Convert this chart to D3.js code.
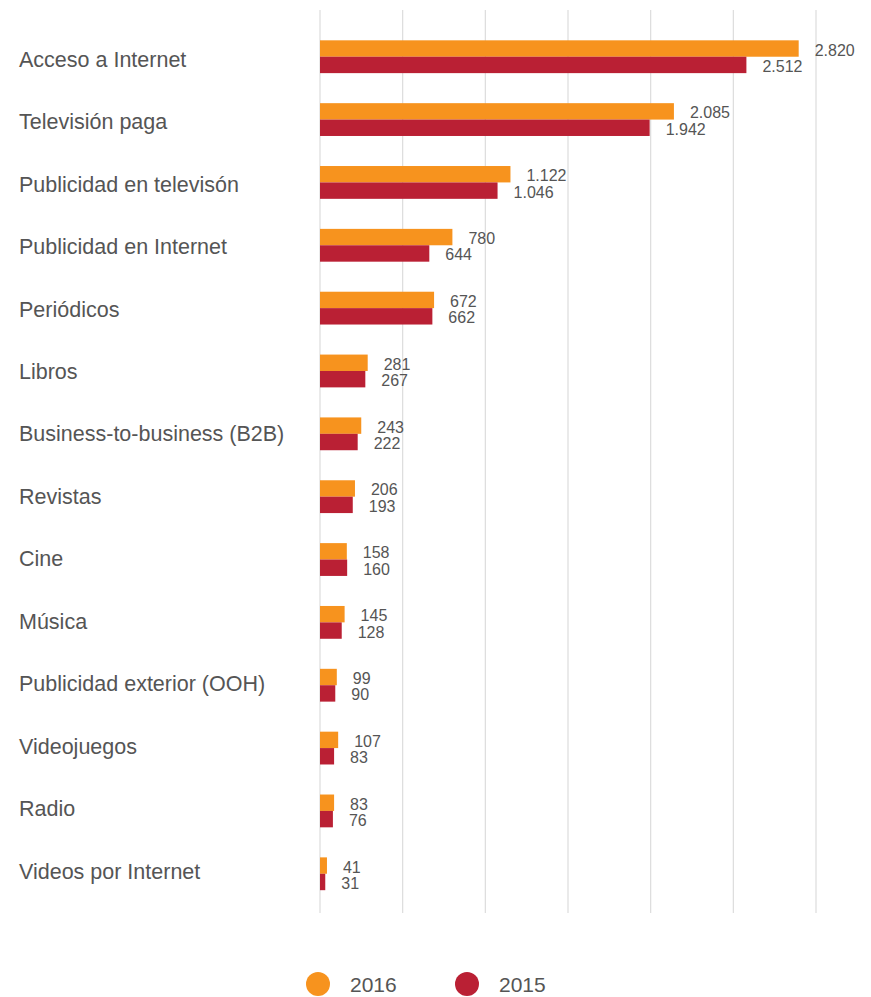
<!DOCTYPE html>
<html>
<head>
<meta charset="utf-8">
<script src="https://cdn.jsdelivr.net/npm/d3@7"></script>
<style>
  html, body { margin: 0; padding: 0; background: #fff; }
  svg { display: block; font-family: "Liberation Sans", Arial, Helvetica, sans-serif; }
</style>
</head>
<body>
<svg id="chart" width="871" height="997"></svg>
<script>
// Ingresos por segmento (millones), 2016 vs 2015
const categories = [
  "Acceso a Internet",
  "Televisión paga",
  "Publicidad en televisón",
  "Publicidad en Internet",
  "Periódicos",
  "Libros",
  "Business-to-business (B2B)",
  "Revistas",
  "Cine",
  "Música",
  "Publicidad exterior (OOH)",
  "Videojuegos",
  "Radio",
  "Videos por Internet"
];
const values2016 = [2820, 2085, 1122, 780, 672, 281, 243, 206, 158, 145, 99, 107, 83, 41];
const values2015 = [2512, 1942, 1046, 644, 662, 267, 222, 193, 160, 128, 90, 83, 76, 31];
const seriesNames = ["2016", "2015"];
const seriesColors = ["#F7931E", "#BA2034"];
const axisMax = 2922;   // end of the value axis
const gridCount = 6;    // equal divisions of the value axis

const svg = d3.select("#chart");

const x = d3.scaleLinear().domain([0, axisMax]).range([320, 816]);

// bar rows
const y0 = d3.scaleBand()
  .domain(categories)
  .range([25.3, 905.2])
  .paddingInner(0.478)
  .paddingOuter(0.239);

// category label rows (slightly tighter than the bar rows)
const yLabel = d3.scaleBand()
  .domain(categories)
  .range([27.8, 902.2]);

const y1 = d3.scaleBand()
  .domain(seriesNames)
  .range([0, y0.bandwidth()]);

const color = d3.scaleOrdinal().domain(seriesNames).range(seriesColors);

const fmt = d3.formatLocale({ decimal: ",", thousands: ".", grouping: [3], currency: ["$", ""] }).format(",d");

// vertical gridlines
const gridVals = d3.range(gridCount + 1).map(i => i * axisMax / gridCount);
svg.append("g")
  .selectAll("line")
  .data(gridVals)
  .join("line")
  .attr("x1", d => x(d)).attr("x2", d => x(d))
  .attr("y1", 10).attr("y2", 913)
  .attr("stroke", "#dcdcdc")
  .attr("stroke-width", 1.2);

// category labels
svg.append("g")
  .selectAll("text")
  .data(categories)
  .join("text")
  .attr("x", 19)
  .attr("y", d => yLabel(d) + yLabel.bandwidth() / 2 + 7.7)
  .attr("fill", "#555")
  .attr("font-size", 21.5)
  .text(d => d);

const rows = categories.map((c, i) => ({
  cat: c,
  vals: [
    { key: "2016", value: values2016[i] },
    { key: "2015", value: values2015[i] }
  ]
}));

const groups = svg.append("g")
  .selectAll("g")
  .data(rows)
  .join("g")
  .attr("transform", d => `translate(0,${y0(d.cat)})`);

groups.selectAll("rect")
  .data(d => d.vals)
  .join("rect")
  .attr("x", x(0))
  .attr("y", d => y1(d.key))
  .attr("width", d => x(d.value) - x(0))
  .attr("height", y1.bandwidth())
  .attr("fill", d => color(d.key));

groups.selectAll("text")
  .data(d => d.vals)
  .join("text")
  .attr("x", d => x(d.value) + 16)
  .attr("y", d => y1(d.key) + y1.bandwidth() / 2 + 7)
  .attr("fill", "#555")
  .attr("font-size", 16)
  .text(d => fmt(d.value));

// legend
const legend = svg.append("g")
  .selectAll("g")
  .data(seriesNames)
  .join("g")
  .attr("transform", (d, i) => `translate(${318 + i * 149},984)`);

legend.append("circle")
  .attr("r", 12)
  .attr("fill", d => color(d));

legend.append("text")
  .attr("x", 32)
  .attr("y", 8)
  .attr("fill", "#555")
  .attr("font-size", 21)
  .text(d => d);
</script>
</body>
</html>
